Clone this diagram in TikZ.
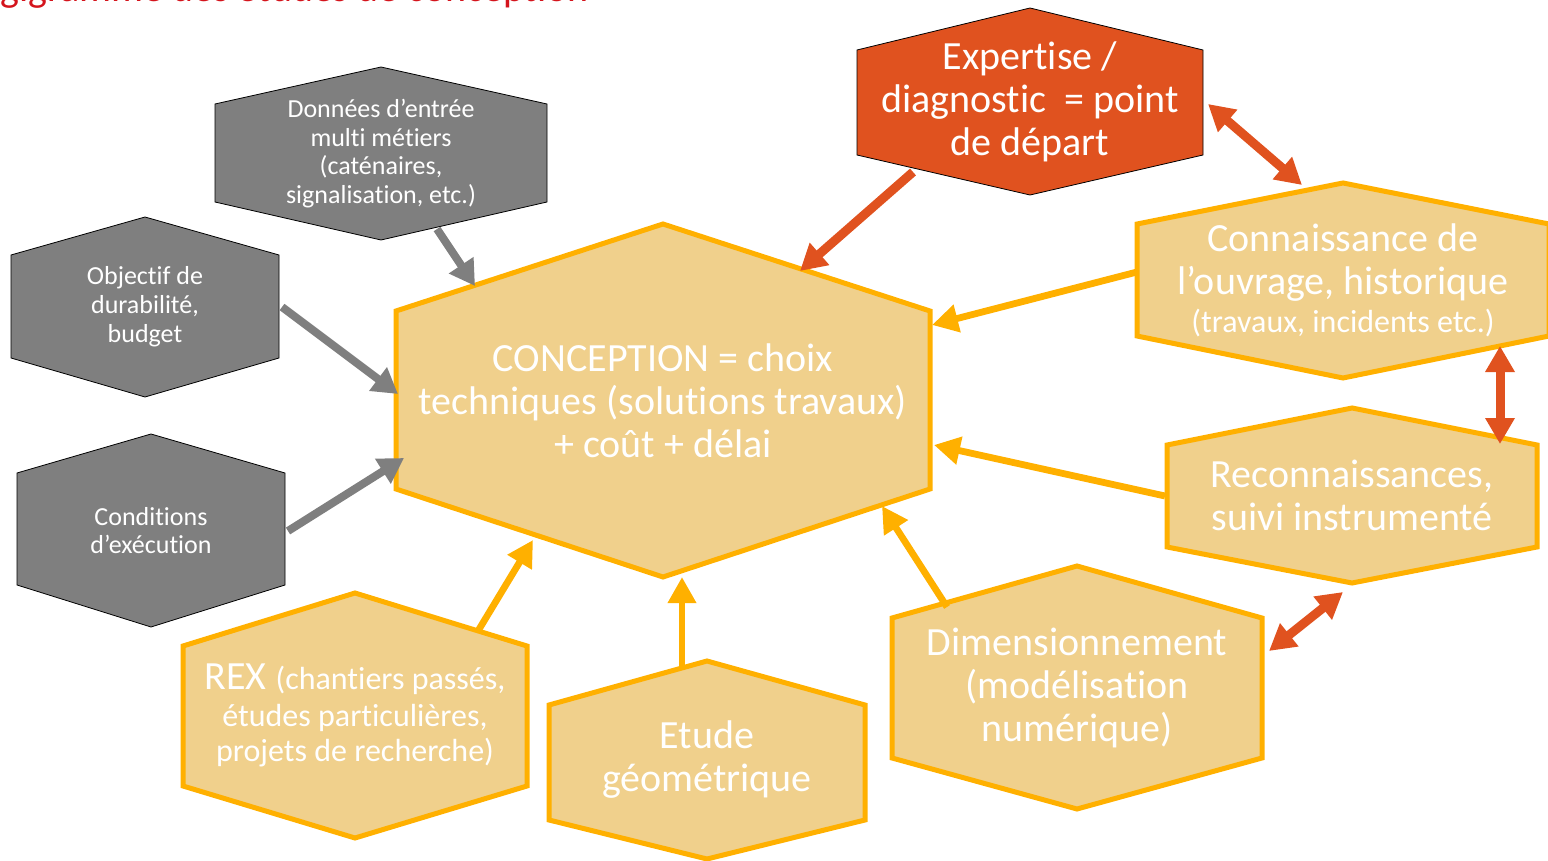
\documentclass[tikz,border=0pt]{standalone}
\usepackage{fontspec}
\setmainfont{Carlito}[Ligatures={TeX,NoCommon}]
\usepackage{xcolor}
\usepackage{tikz}
\usetikzlibrary{arrows.meta, calc}
\definecolor{orfonce}{HTML}{FFB000}
\definecolor{orclair}{HTML}{F0D08C}
\definecolor{gris}{HTML}{7F7F7F}
\definecolor{brique}{HTML}{E0521F}
\definecolor{titrerouge}{HTML}{D4141C}
% hexagone : nom, famille, x centre, demi-largeur, y haut, y epaule 1, y epaule 2, y bas, texte
\newcommand{\hexagone}[9]{%
  \draw[#2 hex] (#3,#5) -- (#3+#4,#6) -- (#3+#4,#7) -- (#3,#8)
    -- (#3-#4,#7) -- (#3-#4,#6) -- cycle;
  \node[#2 txt] (#1) at (#3,{(#5+#8)/2}) {#9};%
}
\newcommand{\petit}{\fontsize{16}{17.5}\selectfont}

\begin{document}
\begin{tikzpicture}[x=0.5pt, y=-0.5pt, line join=miter,
    or hex/.style={draw=orfonce, fill=orclair, line width=2.5pt},
    gris hex/.style={fill=gris},
    brique hex/.style={fill=brique},
    or txt/.style={text=white, align=center, inner sep=0pt, font=\fontsize{20}{21.5}\selectfont},
    brique txt/.style={or txt},
    gris txt/.style={text=white, align=center, inner sep=0pt, font=\fontsize{13}{14.4}\selectfont},
    fleche or/.style={draw=orfonce, line width=3.4pt, -{Triangle[length=13pt, width=13.5pt]}},
    fleche grise/.style={draw=gris, line width=4pt, -{Triangle[length=12.5pt, width=14pt]}},
    fleche brique/.style={draw=brique, line width=4.5pt, -{Triangle[length=13pt, width=14pt]}},
    double brique/.style={fleche brique, {Triangle[length=13pt, width=14pt]}-{Triangle[length=13pt, width=14pt]}}]
  \useasboundingbox (0,0) rectangle (1548,861);
  \clip (0,0) rectangle (1548,861);

  \node[anchor=base west, inner sep=0pt, text=titrerouge, font=\fontsize{20}{24}\selectfont]
    (titre) at (-38,2) {Logigramme des études de conception};

  % entrees grises
  \hexagone{donnees}{gris}{381}{166}{67}{104}{202}{240}{Données d’entrée\\multi métiers\\(caténaires,\\signalisation, etc.)}
  \hexagone{objectif}{gris}{145}{134}{217}{255}{358}{397}{Objectif de\\durabilité,\\budget}
  \hexagone{conditions}{gris}{151}{134}{434}{473}{585}{627}{Conditions\\d’exécution}

  \hexagone{expertise}{brique}{1030}{173}{8}{50}{155}{195}{Expertise /\\diagnostic \ = point\\de départ}

  \hexagone{conception}{or}{663}{267}{224}{311}{489}{577}{CONCEPTION = choix\\techniques (solutions travaux)\\+ coût + délai}
  \hexagone{connaissance}{or}{1343}{206}{183}{224}{336}{378}{Connaissance de\\l’ouvrage, historique\\[-2.5pt]{\fontsize{16}{17}\selectfont (travaux, incidents etc.)}}
  \hexagone{reconnaissances}{or}{1352}{185}{408}{445}{547}{583}{Reconnaissances,\\suivi instrumenté}
  \hexagone{dimensionnement}{or}{1077}{185}{566}{618}{758}{809}{Dimensionnement\\(modélisation\\numérique)}
  \hexagone{etude}{or}{707}{158}{661}{705}{820}{859}{Etude\\géométrique}
  \hexagone{rex}{or}{355}{172}{593}{646}{786}{838}{REX {\petit(chantiers passés,}\\[-3pt]{\petit études particulières,}\\[-4pt]{\petit projets de recherche)}}

  % points d'accroche des fleches
  \coordinate (donnees-s) at (437,229);
  \coordinate (objectif-e) at (282,307);
  \coordinate (conditions-e) at (288,531);
  \coordinate (expertise-so) at (913,172);
  \coordinate (expertise-e) at (1208,104);
  \coordinate (connaissance-n) at (1302,185);
  \coordinate (connaissance-o) at (1137,272);
  \coordinate (connaissance-s) at (1500,346);
  \coordinate (reconnaissances-n) at (1500,444);
  \coordinate (reconnaissances-o) at (1165,496);
  \coordinate (reconnaissances-s) at (1343,592);
  \coordinate (dimensionnement-e) at (1269,651);
  \coordinate (dimensionnement-n) at (947,607);
  \coordinate (etude-n) at (682,668);
  \coordinate (rex-n) at (478,631);
  \coordinate (conception-no) at (475,286);
  \coordinate (conception-o1) at (398,394);
  \coordinate (conception-o2) at (404,458);
  \coordinate (conception-ne) at (800,271);
  \coordinate (conception-e1) at (932,325);
  \coordinate (conception-e2) at (934,445);
  \coordinate (conception-se) at (882,506);
  \coordinate (conception-s) at (682,577);
  \coordinate (conception-so) at (533,540);

  \foreach \a/\b in {donnees-s/conception-no, objectif-e/conception-o1, conditions-e/conception-o2}
    \draw[fleche grise] (\a) -- (\b);
  \foreach \a/\b in {connaissance-o/conception-e1, reconnaissances-o/conception-e2,
      dimensionnement-n/conception-se, etude-n/conception-s, rex-n/conception-so}
    \draw[fleche or] (\a) -- (\b);
  \draw[fleche brique] (expertise-so) -- (conception-ne);
  \draw[double brique] (expertise-e) -- (connaissance-n);
  \draw[double brique] (connaissance-s) -- (reconnaissances-n);
  \draw[double brique] (reconnaissances-s) -- (dimensionnement-e);
\end{tikzpicture}
\end{document}
